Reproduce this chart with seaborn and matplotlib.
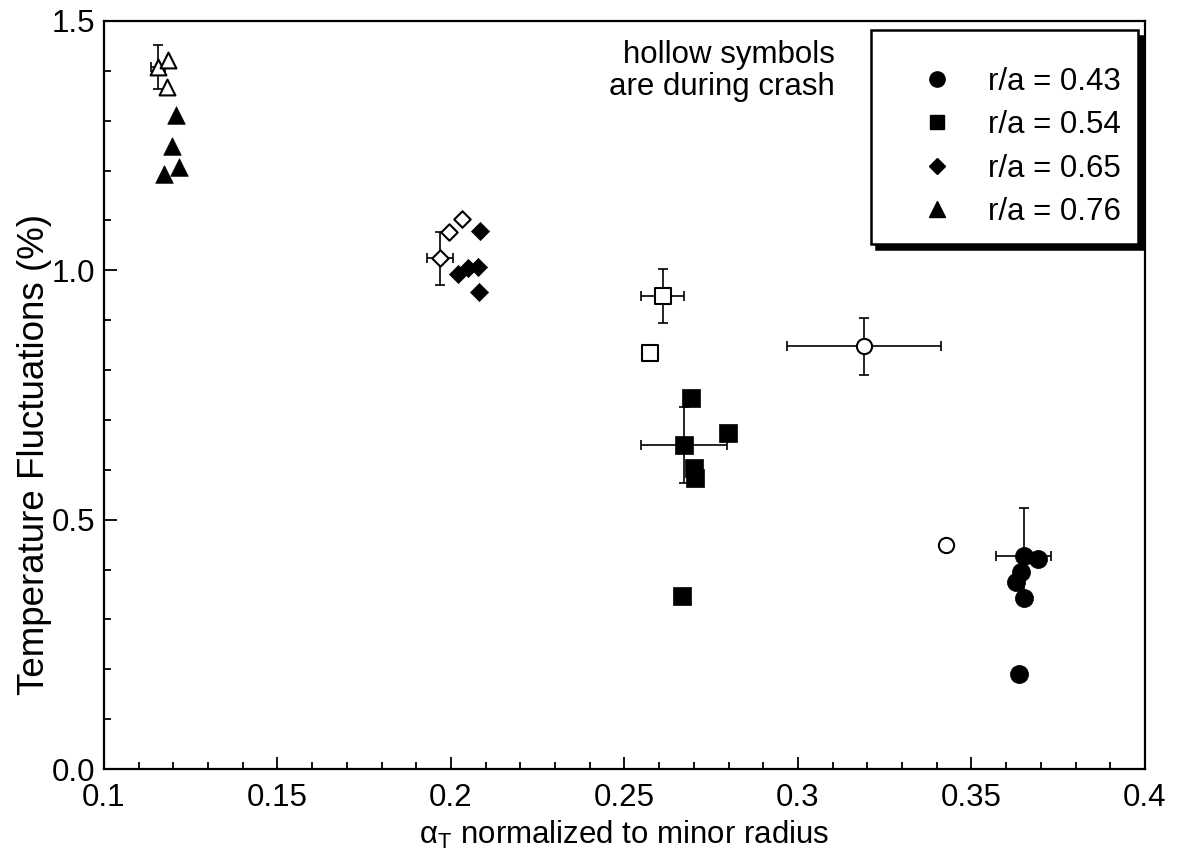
import numpy as np
import pandas as pd
import matplotlib
matplotlib.use('Agg')
import matplotlib.pyplot as plt
import seaborn as sns
from matplotlib.lines import Line2D
from matplotlib.ticker import MultipleLocator


### data
radius_labels = ['r/a = 0.43', 'r/a = 0.54', 'r/a = 0.65', 'r/a = 0.76']

# r/a = 0.43 (circles)
circle_x = [0.3650, 0.3692, 0.3642, 0.3628, 0.3650, 0.3637]
circle_y = [0.427, 0.422, 0.395, 0.376, 0.342, 0.190]
circle_hollow_x = [0.3191, 0.3428]
circle_hollow_y = [0.848, 0.449]

# r/a = 0.54 (squares)
square_x = [0.2692, 0.2672, 0.2797, 0.2699, 0.2702, 0.2667]
square_y = [0.744, 0.650, 0.674, 0.603, 0.583, 0.347]
square_hollow_x = [0.2610, 0.2575]
square_hollow_y = [0.948, 0.834]

# r/a = 0.65 (diamonds)
diamond_x = [0.2084, 0.2021, 0.2050, 0.2079, 0.2082]
diamond_y = [1.079, 0.993, 1.005, 1.006, 0.957]
diamond_hollow_x = [0.1968, 0.1995, 0.2031]
diamond_hollow_y = [1.024, 1.076, 1.103]

# r/a = 0.76 (triangles)
triangle_x = [0.1207, 0.1195, 0.1216, 0.1173]
triangle_y = [1.311, 1.250, 1.208, 1.194]
triangle_hollow_x = [0.1155, 0.1185, 0.1183]
triangle_hollow_y = [1.408, 1.422, 1.367]

# error bars
err_x = [0.1155, 0.1968, 0.2610, 0.2672, 0.3191, 0.3650]
err_y = [1.408, 1.024, 0.948, 0.650, 0.848, 0.427]
err_dx = [0.0020, 0.0038, 0.0062, 0.0124, 0.0222, 0.0080]
err_dy = [0.044, 0.053, 0.054, 0.076, 0.057, 0.096]

x_ticks = [0.1, 0.15, 0.2, 0.25, 0.3, 0.35, 0.4]
x_tick_labels = ['0.1', '0.15', '0.2', '0.25', '0.3', '0.35', '0.4']
y_ticks = [0.0, 0.5, 1.0, 1.5]
y_tick_labels = ['0.0', '0.5', '1.0', '1.5']


### build table
rows = []
groups = [(radius_labels[0], circle_x, circle_y, circle_hollow_x, circle_hollow_y),
          (radius_labels[1], square_x, square_y, square_hollow_x, square_hollow_y),
          (radius_labels[2], diamond_x, diamond_y, diamond_hollow_x, diamond_hollow_y),
          (radius_labels[3], triangle_x, triangle_y, triangle_hollow_x, triangle_hollow_y)]
for lab, fx, fy, hx, hy in groups:
    for x, y in zip(fx, fy):
        rows.append({'alpha_T': x, 'dT': y, 'radius': lab, 'crash': False})
    for x, y in zip(hx, hy):
        rows.append({'alpha_T': x, 'dT': y, 'radius': lab, 'crash': True})
data_all = pd.DataFrame(rows)


#%% plot
sns.set_style('ticks')
plt.rcParams['font.family'] = ['Liberation Sans', 'Arial', 'DejaVu Sans']
plt.rcParams['mathtext.fontset'] = 'custom'
plt.rcParams['mathtext.rm'] = 'Liberation Sans'
plt.rcParams['mathtext.it'] = 'Liberation Sans:italic'
plt.rcParams['font.size'] = 22
plt.rcParams['text.color'] = 'black'
plt.rcParams['axes.labelcolor'] = 'black'
plt.rcParams['xtick.color'] = 'black'
plt.rcParams['ytick.color'] = 'black'

markers = {radius_labels[0]: 'o', radius_labels[1]: 's',
           radius_labels[2]: 'D', radius_labels[3]: '^'}
sizes_filled = {radius_labels[0]: 170, radius_labels[1]: 150,
                radius_labels[2]: 85, radius_labels[3]: 160}
sizes_hollow = {radius_labels[0]: 120, radius_labels[1]: 125,
                radius_labels[2]: 70, radius_labels[3]: 130}

fig = plt.figure(figsize=(11.8, 8.67), dpi=100)
ax = fig.add_axes([0.0881, 0.1130, 0.8822, 0.8628])

ax.errorbar(err_x, err_y, xerr=err_dx, yerr=err_dy, fmt='none', ecolor='black',
            elinewidth=1.2, capsize=3.5, capthick=1.2, zorder=2)

for lab in radius_labels:
    d = data_all.loc[(data_all['radius'] == lab) & (~data_all['crash']), :]
    sns.scatterplot(data=d, x='alpha_T', y='dT', marker=markers[lab], s=sizes_filled[lab],
                    color='black', edgecolor='black', linewidth=0.5, ax=ax, zorder=3, legend=False)
    d = data_all.loc[(data_all['radius'] == lab) & (data_all['crash']), :]
    sns.scatterplot(data=d, x='alpha_T', y='dT', marker=markers[lab], s=sizes_hollow[lab],
                    color='white', edgecolor='black', linewidth=1.5, ax=ax, zorder=4, legend=False)

ax.set_xlim(0.1, 0.4)
ax.set_ylim(0.0, 1.5)
ax.set_xticks(x_ticks, x_tick_labels)
ax.set_yticks(y_ticks, y_tick_labels)
ax.xaxis.set_minor_locator(MultipleLocator(0.01))
ax.yaxis.set_minor_locator(MultipleLocator(0.1))
ax.tick_params(which='both', direction='in', top=False, right=False, width=1.3, colors='black')
ax.tick_params(which='major', length=9, labelsize=22.5)
ax.tick_params(axis='x', which='major', pad=10)
ax.tick_params(axis='y', which='major', pad=6)
ax.tick_params(which='minor', length=5)
for sp in ax.spines.values():
    sp.set_linewidth(1.6)
    sp.set_color('black')

ax.set_xlabel(r'$\mathregular{\alpha_T}$ normalized to minor radius', fontsize=22.5, labelpad=4)
ax.set_ylabel('Temperature Fluctuations (%)', fontsize=26.5)
ax.yaxis.set_label_coords(-0.05, 0.42)

ax.text(0.702, 0.975, 'hollow symbols\nare during crash', transform=ax.transAxes,
        ha='right', va='top', multialignment='right', fontsize=22.5, linespacing=1.1)

handles = [Line2D([], [], linestyle='none', marker=markers[lab], color='black',
                  markersize={'o': 11, 's': 10, 'D': 8, '^': 11}[markers[lab]], label=lab)
           for lab in radius_labels]
leg = ax.legend(handles=handles, loc='upper right', bbox_to_anchor=(0.9935, 0.988),
                borderaxespad=0, fontsize=22.5, frameon=True, fancybox=False, borderpad=0.55,
                handlelength=3.1, handletextpad=0.1, labelspacing=0.42,
                title=' ', title_fontsize=6,
                shadow={'ox': 4, 'oy': -4, 'facecolor': 'black', 'edgecolor': 'black', 'alpha': 1})
leg.get_frame().set_edgecolor('black')
leg.get_frame().set_linewidth(1.8)
leg.get_frame().set_alpha(1)

fig.savefig('out.png', dpi=100)
